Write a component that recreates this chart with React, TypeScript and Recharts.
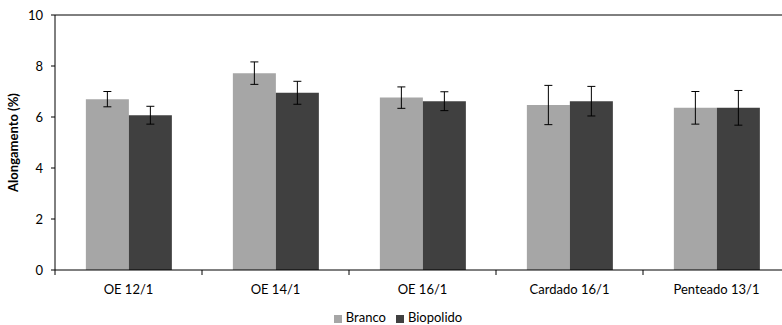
import { BarChart, Bar, XAxis, YAxis, Legend, ErrorBar, ReferenceLine } from "recharts";

const LIGHT = "#a6a6a6";
const DARK = "#404040";
const INK = "#000000";
const FONT = "Lato, 'Open Sans', sans-serif";

const CATEGORIES = ["OE 12/1", "OE 14/1", "OE 16/1", "Cardado 16/1", "Penteado 13/1"];
const SERIES_ORDER = ["Branco", "Biopolido"];
const BRANCO = [6.7, 7.72, 6.76, 6.47, 6.36];
const BRANCO_ERR = [0.3, 0.44, 0.42, 0.77, 0.64];
const BIOPOLIDO = [6.07, 6.95, 6.62, 6.62, 6.36];
const BIOPOLIDO_ERR = [0.35, 0.45, 0.37, 0.58, 0.68];
const Y_TICKS = [0, 2, 4, 6, 8, 10];

const data = CATEGORIES.map((name, i) => ({
  name,
  branco: BRANCO[i],
  brancoErr: BRANCO_ERR[i],
  biopolido: BIOPOLIDO[i],
  biopolidoErr: BIOPOLIDO_ERR[i],
}));

// category label plus a tick mark on the left edge of each band, like Excel
function CategoryTick(props: any) {
  const { x, y, payload } = props;
  const half = payload?.offset ?? 73.5;
  return (
    <g>
      <line x1={x - half} y1={y - 8} x2={x - half} y2={y - 3} stroke={INK} />
      <text x={x} y={y + 16} textAnchor="middle" fontSize={13} fill={INK} fontFamily={FONT}>
        {payload.value}
      </text>
    </g>
  );
}

export default function App() {
  return (
    <div style={{ position: "absolute", left: 0, top: 0, width: 782, height: 325, overflow: "hidden", background: "white" }}>
      <BarChart
        width={800}
        height={325}
        data={data}
        margin={{ top: 15, right: 10, left: 0, bottom: 0 }}
        barCategoryGap="21%"
        barGap={0}
      >
        <ReferenceLine y={10} stroke={INK} strokeWidth={1} />
        <XAxis
          dataKey="name"
          height={30}
          stroke={INK}
          tickLine={false}
          tick={<CategoryTick />}
          interval={0}
        />
        <YAxis
          width={55}
          domain={[0, 10]}
          ticks={Y_TICKS}
          stroke={INK}
          tickSize={4}
          tickMargin={8}
          tick={{ fontSize: 13, fill: INK, fontFamily: FONT }}
          label={{
            value: "Alongamento (%)",
            angle: -90,
            position: "insideLeft",
            dx: 8,
            style: { textAnchor: "middle", fontSize: 13, fontWeight: 700, fill: INK, fontFamily: FONT },
          }}
        />
        <Legend
          height={25}
          verticalAlign="bottom"
          iconType="square"
          iconSize={8}
          itemSorter={(item: any) => SERIES_ORDER.indexOf(item.value)}
          wrapperStyle={{ fontSize: 13, fontFamily: FONT, color: INK, left: 8, top: 309 }}
          formatter={(v) => <span style={{ color: INK }}>{v}</span>}
        />
        <Bar dataKey="branco" name="Branco" fill={LIGHT} isAnimationActive={false}>
          <ErrorBar dataKey="brancoErr" width={4} stroke={INK} strokeWidth={1} />
        </Bar>
        <Bar dataKey="biopolido" name="Biopolido" fill={DARK} isAnimationActive={false}>
          <ErrorBar dataKey="biopolidoErr" width={4} stroke={INK} strokeWidth={1} />
        </Bar>
      </BarChart>
    </div>
  );
}
